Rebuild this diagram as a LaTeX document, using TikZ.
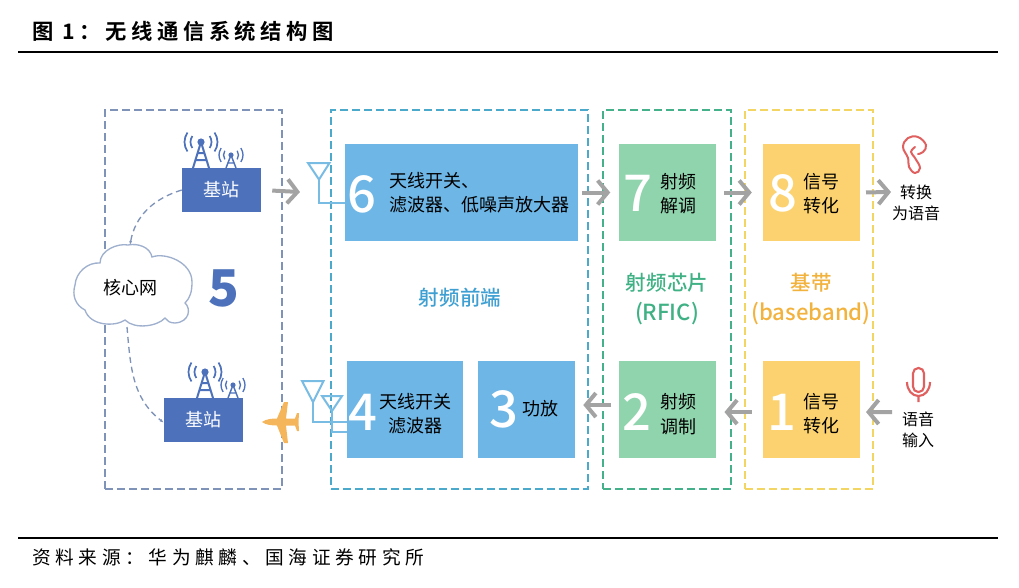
\documentclass[tikz,border=0pt]{standalone}
\usepackage{fontspec}
\usepackage{tikz}
\usetikzlibrary{arrows.meta,positioning,calc}
\setmainfont{Noto Sans CJK SC}
\newfontfamily\titlefont[LetterSpace=21]{Noto Sans CJK SC Bold}
\newfontfamily\notefont[LetterSpace=25]{Noto Sans CJK SC}
\newfontfamily\medfont{Noto Sans CJK SC Medium}
\definecolor{NetBlue}{HTML}{4D72BB}
\definecolor{NetFrame}{HTML}{7F93B8}
\definecolor{CloudLine}{HTML}{9FB0CE}
\definecolor{RfBlue}{HTML}{6DB6E6}
\definecolor{RfFrame}{HTML}{4BA9CC}
\definecolor{RfText}{HTML}{3E9FD2}
\definecolor{ChipGreen}{HTML}{90D4AE}
\definecolor{ChipFrame}{HTML}{45B18B}
\definecolor{ChipText}{HTML}{3FB184}
\definecolor{BandYellow}{HTML}{FBD26F}
\definecolor{BandFrame}{HTML}{F3D564}
\definecolor{BandText}{HTML}{F2B23E}
\definecolor{FlowGray}{HTML}{A3A3A3}
\definecolor{AntBlue}{HTML}{79BCE3}
\definecolor{PlaneOrange}{HTML}{F5B55A}
\definecolor{OrganRed}{HTML}{E0605F}
\tikzset{
  tower/.pic={
    \draw[NetBlue,line width=1.5pt,line join=round] (-8,0)--(0,-26)--(8,0) (-5.5,-8)--(5.5,-8) (-3.5,-15)--(3.5,-15);
    \fill[NetBlue] (0,-26) circle (3.6);
    \draw[NetBlue,line width=1.3pt] (0,-26) ++(145:10.5) arc (145:215:10.5) (0,-26) ++(-35:10.5) arc (-35:35:10.5) (0,-26) ++(145:16.5) arc (145:215:16.5) (0,-26) ++(-35:16.5) arc (-35:35:16.5);
  },
  smalltower/.pic={
    \draw[NetBlue,line width=1.1pt,line join=round] (-5,0)--(0,-13)--(5,0) (-3,-5)--(3,-5);
    \fill[NetBlue] (0,-13) circle (2.6);
    \draw[NetBlue,line width=1pt] (0,-13) ++(145:7.5) arc (145:215:7.5) (0,-13) ++(-35:7.5) arc (-35:35:7.5) (0,-13) ++(145:12) arc (145:215:12) (0,-13) ++(-35:12) arc (-35:35:12);
  }
}
\begin{document}
\begin{tikzpicture}[
  x=0.75pt,y=-0.75pt,
  frame/.style={draw,dashed,dash pattern=on 6pt off 3pt,line width=1.1pt,minimum height=284.25pt,inner sep=0pt},
  unitbox/.style={inner sep=0pt,minimum width=72.75pt,minimum height=72.75pt},
  station/.style={fill=NetBlue,text=white,minimum width=59.25pt,minimum height=33pt,inner sep=0pt,font=\fontsize{13.5}{15}\selectfont},
  bignum/.style={text=white,inner sep=0pt,font=\medfont\fontsize{38}{40}\selectfont},
  unitlabel/.style={align=center,inner sep=0pt,font=\fontsize{13.5}{18.2}\selectfont},
  grouplabel/.style={align=center,inner sep=0pt,font=\medfont\fontsize{15.4}{22.5}\selectfont},
  sidelabel/.style={align=center,inner sep=0pt,font=\fontsize{12}{16}\selectfont},
  flow/.style={-{Straight Barb[length=7.5pt,width=18pt]},draw=FlowGray,line width=3pt},
  link/.style={-{Latex[length=3pt]},draw=NetFrame,dashed,dash pattern=on 4.5pt off 3pt,line width=1pt},
  feed/.style={draw=AntBlue,line width=1.5pt,line join=miter},
  rule/.style={draw=black,line width=1.3pt}
]
\useasboundingbox (0,0) rectangle (1019,587);
% page head and foot
\coordinate (headl) at (18,52); \coordinate (headr) at (998,52);
\coordinate (footl) at (18,538); \coordinate (footr) at (998,538);
\draw[rule] (headl)--(headr);
\draw[rule] (footl)--(footr);
\node[anchor=west,inner sep=0pt,font=\titlefont\fontsize{16}{18}\selectfont] (title) at (32,31) {图 1：无线通信系统结构图};
\node[anchor=west,inner sep=0pt,font=\notefont\fontsize{14}{18}\selectfont] (source) at (32,557) {资料来源：华为麒麟、国海证券研究所};
% dashed groups
\node[frame,draw=NetFrame,minimum width=132.75pt] (netgroup) at (193.5,299.5) {};
\node[frame,draw=RfFrame,minimum width=192.75pt] (rfgroup) at (459.5,299.5) {};
\node[frame,draw=ChipFrame,minimum width=96pt] (chipgroup) at (667,299.5) {};
\node[frame,draw=BandFrame,minimum width=96pt] (bandgroup) at (809,299.5) {};
% unit boxes
\node[unitbox,fill=RfBlue,minimum width=174.75pt] (box6) at (461.5,192.5) {};
\node[unitbox,fill=ChipGreen,right=30pt of box6] (box7) {};
\node[unitbox,fill=BandYellow,right=35pt of box7] (box8) {};
\node[unitbox,fill=ChipGreen,below=89.25pt of box7] (box2) {};
\node[unitbox,fill=BandYellow,below=89.25pt of box8] (box1) {};
\node[unitbox,fill=RfBlue,left=32.25pt of box2] (box3) {};
\node[unitbox,fill=RfBlue,minimum width=87pt,left=10.5pt of box3] (box4) {};
\node[bignum] (num6) at (362,194) {6};
\node[bignum] (num7) at (638,193) {7};
\node[bignum] (num8) at (783,193) {8};
\node[bignum] (num4) at (363,412) {4};
\node[bignum] (num3) at (504,409) {3};
\node[bignum] (num2) at (637,412) {2};
\node[bignum] (num1) at (782,412) {1};
\node[unitlabel,anchor=west,align=left] (text6) at (389,193) {天线开关、\\滤波器、低噪声放大器};
\node[unitlabel] (text7) at (678,194) {射频\\解调};
\node[unitlabel] (text8) at (821,194) {信号\\转化};
\node[unitlabel] (text4) at (415,414) {天线开关\\滤波器};
\node[unitlabel] (text3) at (540,409) {功放};
\node[unitlabel] (text2) at (678,414) {射频\\调制};
\node[unitlabel] (text1) at (821,414) {信号\\转化};
\node[grouplabel,text=RfText] (rflabel) at (460,298) {射频前端};
\node[grouplabel,text=ChipText] (chiplabel) at (667,299) {射频芯片\\{\fontsize{16.6}{23.5}\selectfont (RFIC)}};
\node[grouplabel,text=BandText] (bandlabel) at (811,299) {基带\\{\fontsize{16.6}{23.5}\selectfont (baseband)}};
% network side
\node[station] (bsup) at (221.5,190) {基站};
\node[station] (bsdown) at (203.5,420) {基站};
\draw[CloudLine,fill=white,line width=1pt] (100,263) .. controls (100,250) and (118,243) .. (128,245) .. controls (138,243) and (150,247) .. (152,257) .. controls (165,252) and (192,262) .. (192,282) .. controls (192,292) and (190,298) .. (185,303) .. controls (191,308) and (190,322) .. (175,323) .. controls (170,323) and (167,321) .. (165,318) .. controls (158,326) and (135,330) .. (125,320) .. controls (115,327) and (90,326) .. (85,310) .. controls (75,305) and (72,295) .. (75,285) .. controls (76,272) and (88,262) .. (100,263) -- cycle;
\node[inner sep=0pt,font=\fontsize{13.5}{15}\selectfont] (corenet) at (130,288) {核心网};
\node[text=NetBlue,inner sep=0pt,font=\medfont\fontsize{38}{40}\selectfont\bfseries] (num5) at (224,288) {5};
\coordinate (cloudtop) at (130,245);
\coordinate (cloudbot) at (127,327);
\draw pic at (201,168) {tower};
\draw pic at (231,168) {smalltower};
\draw pic at (205,398) {tower};
\draw pic at (233,398) {smalltower};
\draw[link] (bsup.west) to[out=197,in=80] (cloudtop);
\draw[link] (cloudbot) to[out=-85,in=142] ([yshift=-2pt]bsdown.west);
% antennas
\draw[feed] (308,163)--(329.5,163)--(319,179.5)--cycle;
\draw[feed] (319,179.5) |- (box6.west |- 0,203);
\draw[feed] (302,381)--(323.5,381)--(313,402)--cycle;
\draw[feed] (313,402) |- (box4.west |- 0,422);
\draw[feed] (322,396)--(342,396)--(332,411)--cycle;
\draw[feed] (332,411) |- (box4.west |- 0,432);
% plane
\fill[PlaneOrange] (262,422) .. controls (266,419) and (272,418.5) .. (277,418.5) -- (284,402) -- (288,402) -- (286,418.5) -- (295,418.5) -- (297,413) -- (299,413) -- (298.5,422) -- (299,431) -- (297,431) -- (295,425.5) -- (286,425.5) -- (288,443) -- (284,443) -- (277,425.5) .. controls (272,425.5) and (266,425) .. (262,422) -- cycle;
% flows
\coordinate (bsout) at (300,192);
\coordinate (earin) at (891,192);
\coordinate (micout) at (892,412);
\draw[flow,shorten <=8.25pt] (bsup.east) -- (bsout);
\draw[flow,shorten <=3pt,shorten >=6pt] (box6.east) -- (box7.west);
\draw[flow,shorten <=6.5pt,shorten >=8pt] (box7.east) -- (box8.west);
\draw[flow,shorten <=4.5pt] (box8.east) -- (earin);
\draw[flow,shorten >=4.5pt] (micout) -- ([yshift=-2.25pt]box1.east);
\draw[flow,shorten <=8pt,shorten >=6.5pt] ([yshift=-2.25pt]box1.west) -- ([yshift=-2.25pt]box2.east);
\draw[flow,shorten <=5.25pt,shorten >=6pt] ([yshift=3pt]box2.west) -- ([yshift=3pt]box3.east);
% ear and microphone
\draw[OrganRed,line width=1.5pt,line cap=round] plot[smooth,tension=.7] coordinates {(918,154) (923,152) (926,145) (918,137) (908,138) (903,147) (908,158) (909,167) (915,173) (920,168) (915,158) (911,152) (915,147)};
\draw[OrganRed,line width=1.6pt,rounded corners=4pt] (913,368) rectangle (924,392);
\draw[OrganRed,line width=1.6pt] (907,382) .. controls (907,390) and (912,396) .. (918.5,396) .. controls (925,396) and (930,390) .. (930,382) (918.5,396) -- (918.5,402);
\node[sidelabel] (earlabel) at (916,203) {转换\\为语音};
\node[sidelabel] (miclabel) at (918,430) {语音\\输入};
\end{tikzpicture}
\end{document}
